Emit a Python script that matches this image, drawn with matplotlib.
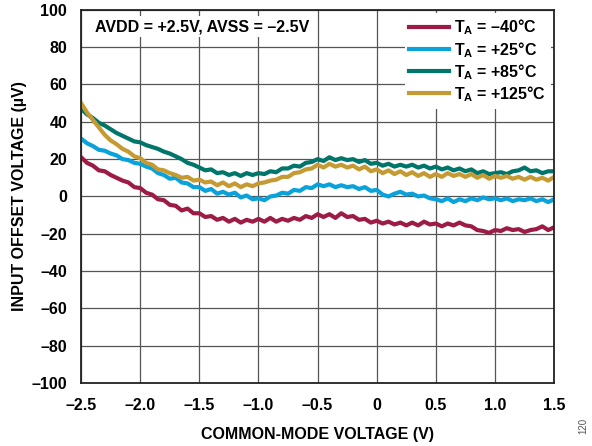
import numpy as np
import matplotlib
matplotlib.use("Agg")
import matplotlib.pyplot as plt

plt.rcParams["font.family"] = ["Liberation Sans", "DejaVu Sans"]
plt.rcParams["font.weight"] = "bold"
plt.rcParams["mathtext.fontset"] = "custom"
plt.rcParams["mathtext.rm"] = "Liberation Sans:bold"
plt.rcParams["mathtext.bf"] = "Liberation Sans:bold"
plt.rcParams["mathtext.it"] = "Liberation Sans:bold"

# common-mode voltage (V), 0.05 V steps from -2.5 to 1.5
vcm = np.linspace(-2.5, 1.5, 81)

# input offset voltage (uV)
t_m40 = [21, 18, 16.5, 14, 13.5, 11.5, 10, 8.5, 7.5, 5, 4.5, 2, 1, -1.5, -2, -4.5,
         -5, -7.5, -6.5, -9, -9, -11, -10.5, -12.5, -11.5, -13.5, -12, -14, -12.5,
         -13.5, -12, -13.5, -11.5, -13.5, -12, -13, -11.5, -12.5, -10.5, -11.5, -9.5,
         -11, -9.5, -11.5, -9, -11, -10.5, -12.5, -12, -14, -13, -14.5, -13.5, -15,
         -14, -15.5, -14, -15.5, -13.5, -15, -14.5, -16, -14.5, -15.5, -14, -15.5,
         -16, -18, -18.5, -19.5, -18, -18.5, -17, -18, -17.5, -19, -18, -17.5, -16,
         -18, -16.5]
t_25 = [31, 28.5, 27, 25, 24.5, 23, 22, 20, 19.5, 18, 17.5, 16, 15, 12.5, 11.5, 9.5,
        10, 7.5, 7, 5, 5, 3, 4, 1.5, 2.5, 1, 2, -0.5, 0.5, -1.5, -1, -2, 0, 0.5, 2,
        1.5, 3.5, 3, 5, 4.5, 6.5, 5.5, 6.5, 5, 6, 5, 5.5, 4, 5, 3, 3.5, 1, 0, 1.5,
        2.5, 1, 1.5, 0, 0.5, -1, -1.5, -2.5, -1, -3, -1.5, -2.5, -1, -2, -0.5, -1.5,
        -1, -2, -1, -2.5, -1.5, -2, -1, -2.5, -1.5, -3, -1.5]
t_85 = [47, 44, 42, 39.5, 38, 36, 34, 32.5, 31, 29.5, 29, 27.5, 26.5, 25.5, 24, 23,
        21.5, 20, 18, 17, 15.5, 14, 14.5, 12.5, 13, 11.5, 12.5, 11, 12.5, 11.5, 12.5,
        12, 13.5, 13, 15, 15, 16.5, 16, 18, 18.5, 20, 19, 21, 19.5, 20.5, 19.5, 20,
        18.5, 19.5, 17.5, 18, 16.5, 17.5, 16, 17, 16, 17, 15.5, 16.5, 15, 16, 14.5,
        15.5, 14, 15, 13.5, 14.5, 12.5, 13.5, 12, 12.5, 13, 12, 13.5, 14, 15.5, 13.5,
        14, 12.5, 13.5, 13.5]
t_125 = [50, 45, 41, 37, 33, 30, 28, 25.5, 24, 21.5, 20.5, 18, 17, 14.5, 14, 12.5,
         11.5, 10, 10.5, 8.5, 9, 7.5, 8, 6, 7.5, 5.5, 7, 5, 6.5, 5.5, 7, 7.5, 8.5, 9,
         10.5, 10.5, 12.5, 13, 14.5, 15, 17, 15.5, 17.5, 16, 17, 15.5, 16.5, 14.5, 16,
         13.5, 14.5, 12.5, 14, 12, 13.5, 11.5, 13, 11, 12.5, 10.5, 12, 10.5, 12.5, 11,
         12, 10.5, 12, 10, 11.5, 9.5, 11, 10, 11, 9.5, 10.5, 9, 10.5, 9, 10, 8.5, 10.5]

labels = ["$T_A$ = –40°C", "$T_A$ = +25°C", "$T_A$ = +85°C", "$T_A$ = +125°C"]
colours = ["#9c1c45", "#0aa2da", "#00766b", "#c59a32"]

xticks = [-2.5, -2.0, -1.5, -1.0, -0.5, 0, 0.5, 1.0, 1.5]
xticklabels = ["–2.5", "–2.0", "–1.5", "–1.0", "–0.5", "0", "0.5", "1.0", "1.5"]
yticks = list(range(-100, 101, 20))
yticklabels = [str(v).replace("-", "–") for v in yticks]

fig = plt.figure(figsize=(5.92, 4.46), dpi=100)
ax = fig.add_axes([0.137, 0.141, 0.799, 0.837])

for ys, lab, col in zip([t_m40, t_25, t_85, t_125], labels, colours):
    ax.plot(vcm, ys, color=col, linewidth=3.0, label=lab, solid_joinstyle="round")

ax.set_xlim(-2.5, 1.5)
ax.set_ylim(-100, 100)
ax.set_xticks(xticks)
ax.set_xticklabels(xticklabels)
ax.set_yticks(yticks)
ax.set_yticklabels(yticklabels)
ax.tick_params(length=0, labelsize=11.5)
ax.tick_params(axis="x", pad=11)
ax.tick_params(axis="y", pad=10)
ax.grid(True, color="#555555", linewidth=0.9)
ax.set_axisbelow(True)
for sp in ax.spines.values():
    sp.set_linewidth(1.3)
    sp.set_color("#222222")

ax.set_xlabel("COMMON-MODE VOLTAGE (V)", fontsize=11.5, fontweight="bold", labelpad=10)
ax.set_ylabel("INPUT OFFSET VOLTAGE (µV)", fontsize=11.5, fontweight="bold", labelpad=3)

ax.text(0.03, 0.955, "AVDD = +2.5V, AVSS = –2.5V", transform=ax.transAxes,
        fontsize=11.5, fontweight="bold", va="center", ha="left",
        bbox=dict(facecolor="white", edgecolor="none", pad=2))

leg = ax.legend(loc="upper right", fontsize=11.5, frameon=True, fancybox=False,
                handlelength=2.5, handletextpad=0.3, labelspacing=0.15,
                borderpad=0.3, borderaxespad=0.2)
leg.get_frame().set_edgecolor("none")
leg.get_frame().set_alpha(1.0)
for ln in leg.get_lines():
    ln.set_linewidth(3.0)

fig.text(0.985, 0.045, "120", rotation=90, fontsize=7, color="#555555",
         fontweight="normal", ha="center", va="center")

fig.savefig("out.png", dpi=100)
